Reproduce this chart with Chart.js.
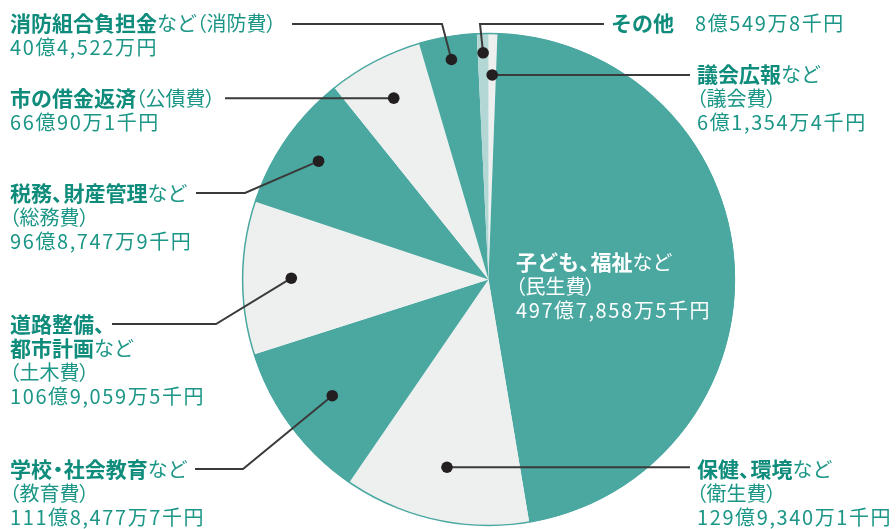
<!DOCTYPE html>
<html><head><meta charset="utf-8">
<script src="https://cdn.jsdelivr.net/npm/chart.js@4/dist/chart.umd.min.js"></script>
<style>html,body{margin:0;padding:0;background:#fff;}canvas{display:block;}</style>
</head><body>
<canvas id="c" width="896" height="529"></canvas>
<script>
// ---- data (億円), clockwise from 12 o'clock ----
const categories = ['議会費','民生費','衛生費','教育費','土木費','総務費','公債費','消防費','その他'];
const values = [6.13544, 497.78585, 129.93401, 111.84777, 106.90595, 96.87479, 66.09010, 40.45220, 8.05498];
const amountLabels = ['6億1,354万4千円','497億7,858万5千円','129億9,340万1千円','111億8,477万7千円','106億9,059万5千円','96億8,747万9千円','66億90万1千円','40億4,522万円','8億549万8千円'];
const descBold = ['議会広報','子ども、福祉','保健、環境','学校・社会教育','道路整備、|都市計画','税務、財産管理','市の借金返済','消防組合負担金','その他'];
const descSuffix = ['など','など','など','など','など','など','','など',''];

// ---- styles / layout ----
const TEAL = '#4aa8a1', LIGHT = '#eef0ef', PALE = '#b3d7d4';
const sliceColors = [LIGHT, TEAL, LIGHT, TEAL, LIGHT, TEAL, LIGHT, TEAL, PALE];
const TXT_B = '#0f8c7b', TXT_R = '#1c9686';
const FONT = '"Noto Sans CJK JP","Noto Sans",sans-serif';
const FSB = 21, FSR = 20, LH = 24, NUM_SP = '1.6px';

// segment kinds: 1 bold, 0 regular, 2 amount, 3 open paren, 4 close paren
function paren(c){ return [['（',3],[c,0],['）',4]]; }
const labelLayout = [
  {r:0.83, path:[[690,null]], x:697, y:74, lines:[[[descBold[0],1],[descSuffix[0],0]],paren(categories[0]),[[amountLabels[0],2]]]},
  {r:null, x:516, y:262, color:'#ffffff', lines:[[[descBold[1],1],[descSuffix[1],0]],paren(categories[1]),[[amountLabels[1],2]]]},
  {r:0.78, path:[[690,null]], x:697, y:469, lines:[[[descBold[2],1],[descSuffix[2],0]],paren(categories[2]),[[amountLabels[2],2]]]},
  {r:0.79, path:[[243,469],[195,469]], x:10, y:469, lines:[[[descBold[3],1],[descSuffix[3],0]],paren(categories[3]),[[amountLabels[3],2]]]},
  {r:0.80, path:[[216,324],[112,324]], x:10, y:324, lines:[[[descBold[4].split('|')[0],1]],[[descBold[4].split('|')[1],1],[descSuffix[4],0]],paren(categories[4]),[[amountLabels[4],2]]]},
  {r:0.84, path:[[245,193],[196,193]], x:10, y:193, lines:[[[descBold[5],1],[descSuffix[5],0]],paren(categories[5]),[[amountLabels[5],2]]]},
  {r:0.83, path:[[225,null]], x:10, y:98, lines:[[[descBold[6],1]].concat(paren(categories[6])),[[amountLabels[6],2]]]},
  {r:0.905, path:[[442,24],[292,24]], x:10, y:23, lines:[[[descBold[7],1],[descSuffix[7],0]].concat(paren(categories[7])),[[amountLabels[7],2]]]},
  {r:0.92, path:[[480,24],[604,24]], x:611, y:23, lines:[[[descBold[8],1],[amountLabels[8],2,695]]]}
];

function drawBold(ctx, t, x, y){
  // proportional punctuation for 、 and ・ (half-width advance)
  for (const ch of t) {
    if (ch === '、') { ctx.fillText(ch, x, y); x += 0.55 * FSB; }
    else if (ch === '・') { ctx.fillText(ch, x - 0.22 * FSB, y); x += 0.56 * FSB; }
    else { ctx.fillText(ch, x, y); x += ctx.measureText(ch).width; }
  }
  return x;
}

const labelPlugin = {
  id:'labels',
  afterDatasetsDraw(chart){
    const ctx = chart.ctx;
    const meta = chart.getDatasetMeta(0);
    const a0 = meta.data[0];
    ctx.save();
    ctx.beginPath();
    ctx.arc(a0.x, a0.y, a0.outerRadius - 0.6, 0, Math.PI*2);
    ctx.strokeStyle = TEAL; ctx.lineWidth = 1.5; ctx.stroke();
    ctx.restore();

    meta.data.forEach((arc, i) => {
      const L = labelLayout[i];
      ctx.save();
      if (L.r) {
        const mid = (arc.startAngle + arc.endAngle) / 2;
        const dx = arc.x + Math.cos(mid) * arc.outerRadius * L.r;
        const dy = arc.y + Math.sin(mid) * arc.outerRadius * L.r;
        ctx.beginPath();
        ctx.moveTo(dx, dy);
        L.path.forEach(p => ctx.lineTo(p[0], p[1] === null ? dy : p[1]));
        ctx.strokeStyle = '#3a3a3a'; ctx.lineWidth = 2; ctx.stroke();
        ctx.beginPath();
        ctx.arc(dx, dy, 5.8, 0, Math.PI*2);
        ctx.fillStyle = '#231f20'; ctx.fill();
      }
      ctx.textBaseline = 'middle';
      L.lines.forEach((line, li) => {
        let x = L.x;
        const y = L.y + li * LH;
        line.forEach(([t, k, ax]) => {
          if (ax !== undefined) x = ax;
          ctx.font = (k === 1 ? 'bold ' + FSB : FSR) + 'px ' + FONT;
          ctx.letterSpacing = k === 2 ? NUM_SP : '0px';
          ctx.fillStyle = L.color || (k === 1 ? TXT_B : TXT_R);
          if (k === 1) { x = drawBold(ctx, t, x, y); }
          else if (k === 3) { ctx.fillText(t, x - 0.5 * FSR, y); x += 0.48 * FSR; }
          else if (k === 4) { ctx.fillText(t, x - 0.05 * FSR, y); x += 0.5 * FSR; }
          else { ctx.fillText(t, x, y); x += ctx.measureText(t).width; }
        });
      });
      ctx.restore();
    });
  }
};

new Chart(document.getElementById('c'), {
  type: 'pie',
  data: { labels: categories, datasets: [{ data: values, backgroundColor: sliceColors, borderWidth: 0 }] },
  options: {
    responsive: false,
    devicePixelRatio: 1,
    animation: false,
    layout: { padding: { top: 33, bottom: 3, left: 200, right: 119 } },
    plugins: { legend: { display: false }, tooltip: { enabled: false } }
  },
  plugins: [labelPlugin]
});
</script>
</body></html>
